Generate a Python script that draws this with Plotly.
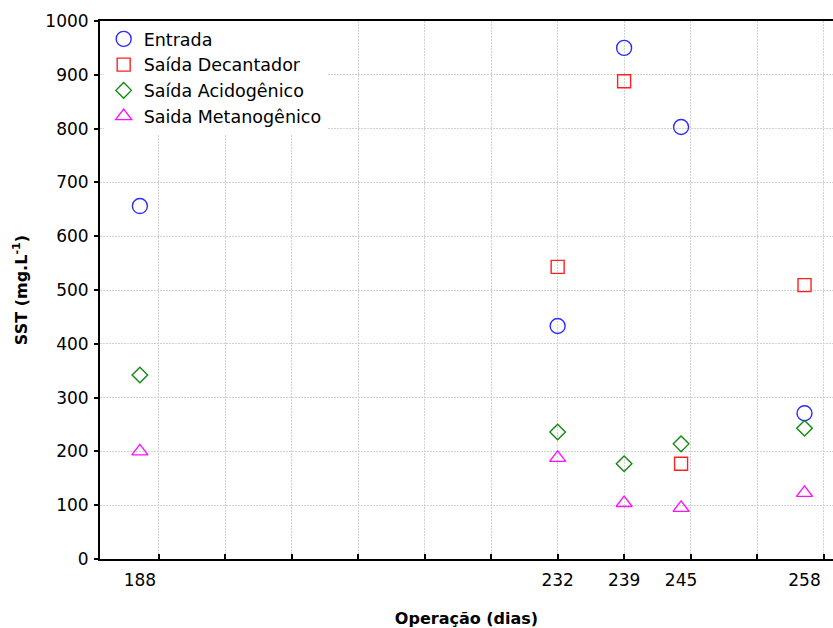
import plotly.graph_objects as go

# Operating days sampled
dias = [188, 232, 239, 245, 258]

# SST (mg/L) at each sampling point
entrada = [656, 433, 950, 803, 271]
saida_decantador = [None, 543, 888, 177, 509]
saida_acidogenico = [342, 236, 177, 214, 243]
saida_metanogenico = [200, 188, 104, 95, 123]

y_ticks = list(range(0, 1001, 100))

series = [
    ("Entrada", entrada, "circle-open", "#2b2bff", 15),
    ("Saída Decantador", saida_decantador, "square-open", "#ff2020", 13),
    ("Saída Acidogênico", saida_acidogenico, "diamond-open", "#108a10", 12),
    ("Saida Metanogênico", saida_metanogenico, "triangle-up-open", "#ff10ff", 14),
]

fig = go.Figure()
for name, vals, sym, col, size in series:
    fig.add_trace(go.Scatter(
        x=dias, y=vals, mode="markers", name=name,
        marker=dict(symbol=sym, size=size, color=col, line=dict(color=col, width=1.4)),
    ))

font_main = "DejaVu Sans, Liberation Sans, Arial, sans-serif"
grid_col = "#d2d2d2"
grid_dash = "2px,1px"

fig.update_layout(
    width=833, height=628,
    margin=dict(l=100, r=0, t=21, b=69),
    paper_bgcolor="white", plot_bgcolor="white",
    font=dict(family=font_main, size=17, color="black"),
    showlegend=True,
    legend=dict(
        x=0.005, y=1.0, xanchor="left", yanchor="top",
        bgcolor="white", borderwidth=0,
        font=dict(family=font_main, size=17.5, color="black"),
        itemsizing="trace", tracegroupgap=0,
    ),
    xaxis=dict(
        range=[183.8, 261.0],
        tickmode="array", tickvals=dias, ticktext=[str(d) for d in dias],
        ticks="", showgrid=False, zeroline=False,
        showline=True, linecolor="black", linewidth=2, mirror=True,
        tickfont=dict(family=font_main, size=17),
        ticklabelstandoff=5,
        minor=dict(tick0=190, dtick=7, ticks="inside", ticklen=5, tickcolor="black",
                   tickwidth=1.5, showgrid=True, gridcolor=grid_col, griddash=grid_dash,
                   gridwidth=1),
        title=dict(text="Operação (dias)", standoff=24,
                   font=dict(family=font_main, size=16, color="black", weight="bold")),
    ),
    yaxis=dict(
        range=[0, 1000],
        tickmode="array", tickvals=y_ticks,
        ticks="outside", ticklen=4, tickwidth=1.5, tickcolor="black",
        showgrid=True, gridcolor=grid_col, griddash=grid_dash, gridwidth=1,
        zeroline=False,
        showline=True, linecolor="black", linewidth=2,
        tickfont=dict(family=font_main, size=17),
        ticklabelstandoff=2,
        title=dict(text="SST (mg.L<sup>-1</sup>)", standoff=14,
                   font=dict(family=font_main, size=16, color="black", weight="bold")),
    ),
)

fig.write_html("out.html")
